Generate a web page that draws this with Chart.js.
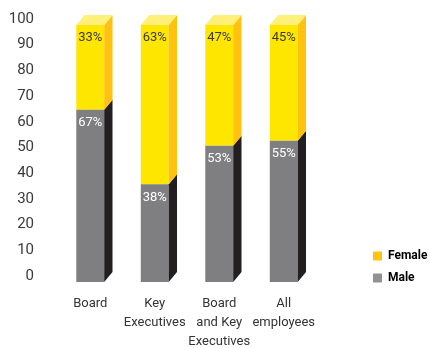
<!DOCTYPE html>
<html>
<head>
<meta charset="utf-8">
<script src="https://cdn.jsdelivr.net/npm/chart.js@4"></script>
<style>
  html, body { margin: 0; padding: 0; background: #fff; }
  #wrap { width: 430px; height: 348px; }
</style>
</head>
<body>
<div id="wrap"><canvas id="genderChart"></canvas></div>
<script>
const categories = ["Board", ["Key", "Executives"], ["Board", "and Key", "Executives"], ["All", "employees"]];
const maleValues = [67, 38, 53, 55];
const femaleValues = [33, 63, 47, 45];
const yTicks = [0, 10, 20, 30, 40, 50, 60, 70, 80, 90, 100];

// fake 3d depth
const DX = 8.3, DY = 10;

const faces = {
    Male: { front: "#7f7f82", side: "#231f20", top: "#9a9a9c", legend: "#929295" },
    Female: { front: "#ffe600", side: "#ffc20e", top: "#fff07a", legend: "#ffc20e" }
};

function poly(ctx, pts, color) {
    ctx.beginPath();
    ctx.moveTo(pts[0][0], pts[0][1]);
    for (let i = 1; i < pts.length; i++) ctx.lineTo(pts[i][0], pts[i][1]);
    ctx.closePath();
    ctx.fillStyle = color;
    ctx.fill();
}

const depthPlugin = {
    id: "depth",
    beforeInit(chart) {
        // widen the legend box so the plot stops where the original does
        const fit = chart.legend.fit;
        chart.legend.fit = function () {
            fit.call(this);
            this.width = 114;
        };
    },
    afterLayout(chart) {
        const lg = chart.legend;
        const sy = 294 - lg.bottom;
        lg.left += 47; lg.right += 47;
        lg.top += sy; lg.bottom += sy;
    },
    afterDatasetsDraw(chart) {
        const ctx = chart.ctx;
        const top = chart.chartArea.top;
        const last = chart.data.datasets.length - 1;
        ctx.save();
        chart.data.datasets.forEach((ds, di) => {
            const f = faces[ds.label];
            chart.getDatasetMeta(di).data.forEach((bar, i) => {
                const p = bar.getProps(["x", "y", "base", "width"], true);
                const l = p.x - p.width / 2, r = p.x + p.width / 2;
                const y = Math.max(p.y, top);
                poly(ctx, [[r, y], [r + DX, y - DY], [r + DX, p.base - DY], [r, p.base]], f.side);
                if (di === last) {
                    poly(ctx, [[l, y], [r, y], [r + DX, y - DY], [l + DX, y - DY]], f.top);
                }
                // percent label on the front face
                ctx.font = "13px Roboto";
                ctx.textAlign = "center";
                ctx.textBaseline = "middle";
                ctx.fillStyle = ds.label === "Male" ? "#ffffff" : "#3a3a3a";
                ctx.fillText(ds.data[i] + "%", p.x, y + 13);
            });
        });
        ctx.restore();
    }
};

const ctx = document.getElementById("genderChart").getContext("2d");

const clipTop = { left: false, right: false, bottom: false, top: 0 };

new Chart(ctx, {
    type: "bar",
    data: {
        labels: categories,
        datasets: [
            { label: "Male", data: maleValues, backgroundColor: faces.Male.front, clip: clipTop },
            { label: "Female", data: femaleValues, backgroundColor: faces.Female.front, clip: clipTop }
        ]
    },
    options: {
        responsive: true,
        maintainAspectRatio: false,
        animation: false,
        barPercentage: 0.433,
        categoryPercentage: 1,
        layout: { padding: { top: 25, left: 0, right: 0, bottom: 0 } },
        scales: {
            x: {
                stacked: true,
                grid: { display: false, drawTicks: false },
                border: { display: false },
                ticks: {
                    color: "#333",
                    padding: 12,
                    maxRotation: 0,
                    autoSkip: false,
                    font: { family: "Roboto", size: 13, lineHeight: 1.46 }
                },
                afterFit(scale) { scale.height = 66; }
            },
            y: {
                stacked: true,
                min: 0,
                max: 100,
                grid: { display: false, drawTicks: false },
                border: { display: false },
                afterBuildTicks(scale) { scale.ticks = yTicks.map(v => ({ value: v })); },
                afterFit(scale) {
                    scale.width = 58;
                    scale.paddingTop = 0;
                    scale.paddingBottom = 0;
                },
                ticks: {
                    color: "#3a3a3a",
                    padding: 24,
                    labelOffset: -6,
                    font: { family: "Roboto", size: 15 }
                }
            }
        },
        plugins: {
            tooltip: { enabled: false },
            legend: {
                position: "right",
                align: "end",
                reverse: true,
                labels: {
                    boxWidth: 9,
                    boxHeight: 9,
                    padding: 10,
                    color: "#222",
                    font: { family: "Roboto", size: 12, weight: "bold" },
                    generateLabels(chart) {
                        return chart.data.datasets.map((ds, i) => ({
                            text: ds.label,
                            fillStyle: faces[ds.label].legend,
                            strokeStyle: faces[ds.label].legend,
                            lineWidth: 0,
                            datasetIndex: i
                        }));
                    }
                }
            }
        }
    },
    plugins: [depthPlugin]
});
</script>
</body>
</html>
